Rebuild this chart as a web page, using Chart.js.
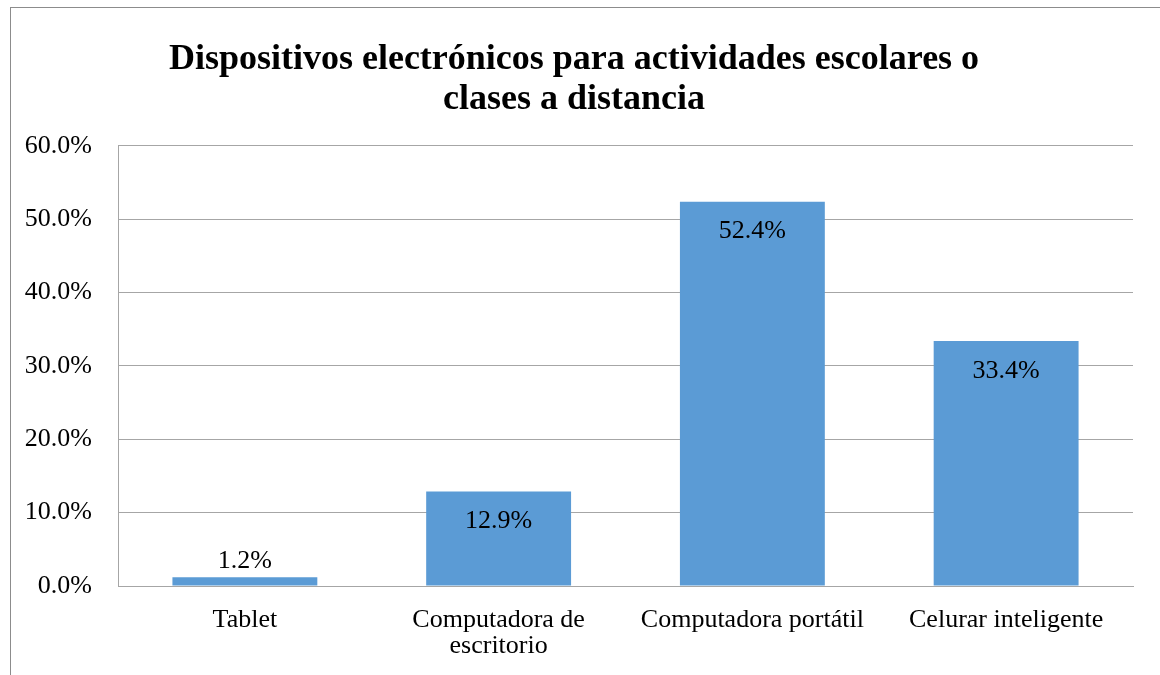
<!DOCTYPE html>
<html>
<head>
<meta charset="utf-8">
<script src="https://cdn.jsdelivr.net/npm/chart.js@4"></script>
<style>
  body { margin: 0; background: #fff; }
  #wrap { position: relative; width: 1160px; height: 675px; overflow: hidden; }
  #frame { position: absolute; left: 10px; top: 7px; width: 1200px; height: 700px;
           border-top: 1px solid #8c8c8c; border-left: 1px solid #8c8c8c; pointer-events: none; }
  canvas { position: absolute; left: 0; top: 0; }
</style>
</head>
<body>
<div id="wrap">
  <canvas id="myChart" width="1160" height="675"></canvas>
  <div id="frame"></div>
</div>
<script>
var titleLines = ["Dispositivos electrónicos para actividades escolares o", "clases a distancia"];
var categories = ["Tablet", ["Computadora de", "escritorio"], "Computadora portátil", "Celurar inteligente"];
var values = [1.2, 12.9, 52.4, 33.4];
var yTicks = [0, 10, 20, 30, 40, 50, 60];

var serif = "'Liberation Serif', 'Times New Roman', serif";

// draws the value labels, inside the bar top when there is room, above it otherwise
var barLabels = {
  id: "barLabels",
  afterDatasetsDraw: function (chart) {
    var ctx = chart.ctx;
    var meta = chart.getDatasetMeta(0);
    ctx.save();
    ctx.font = "26px " + serif;
    ctx.fillStyle = "#000";
    ctx.textAlign = "center";
    ctx.textBaseline = "middle";
    meta.data.forEach(function (bar, i) {
      var h = bar.base - bar.y;
      var y = h > 40 ? bar.y + 30 : bar.y - 16;
      ctx.fillText(values[i].toFixed(1) + "%", bar.x, y);
    });
    ctx.restore();
  }
};

new Chart("myChart", {
  type: "bar",
  data: {
    labels: categories,
    datasets: [{
      data: values,
      backgroundColor: "#5B9BD5",
      borderWidth: 0,
      barPercentage: 0.571,
      categoryPercentage: 1
    }]
  },
  options: {
    responsive: false,
    animation: false,
    layout: { padding: { left: 15, right: 27, top: 40, bottom: 0 } },
    plugins: {
      legend: { display: false },
      tooltip: { enabled: false },
      title: {
        display: true,
        text: titleLines,
        color: "#000",
        font: { family: serif, size: 36, weight: "bold", lineHeight: 1.11 },
        padding: { top: 0, bottom: 26 }
      }
    },
    scales: {
      x: {
        grid: { display: false, drawTicks: false },
        border: { display: true, color: "#a6a6a6", width: 1 },
        ticks: { color: "#000", font: { family: serif, size: 26, lineHeight: 1.0 }, padding: 21, maxRotation: 0, autoSkip: false },
        afterFit: function (scale) { scale.height = 89; }
      },
      y: {
        min: 0,
        max: 60,
        afterBuildTicks: function (scale) {
          scale.ticks = yTicks.map(function (v) { return { value: v }; });
        },
        grid: { color: "#a6a6a6", drawTicks: false },
        border: { display: true, color: "#a6a6a6", width: 1 },
        ticks: {
          color: "#000",
          font: { family: serif, size: 26 },
          padding: 26,
          callback: function (v) { return v.toFixed(1) + "%"; }
        },
        afterFit: function (scale) { scale.width = 103; }
      }
    }
  },
  plugins: [barLabels]
});
</script>
</body>
</html>
